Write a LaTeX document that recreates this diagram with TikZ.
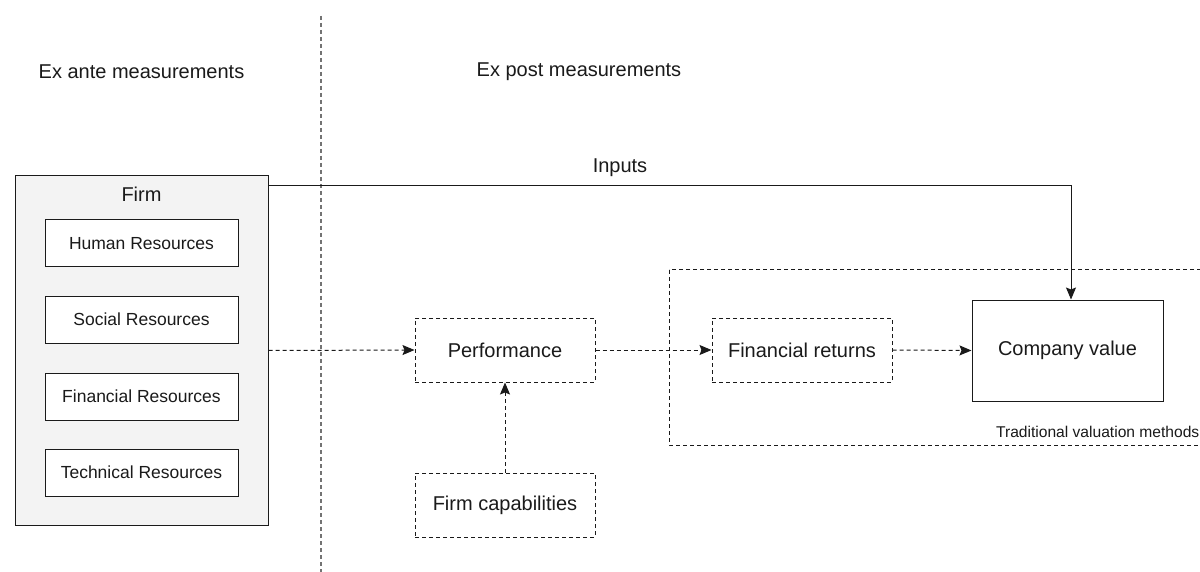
\documentclass[tikz,border=0pt]{standalone}
\usepackage{fontspec}
\setmainfont{Liberation Sans}
\usetikzlibrary{arrows.meta}
\definecolor{ink}{HTML}{1A1A1A}
\definecolor{firmfill}{HTML}{F3F3F3}
\tikzset{
  txt/.style={text=ink, inner sep=0pt},
  box/.style={draw=ink, line width=1pt, inner sep=0pt, text=ink, font=\fontsize{20}{24}\selectfont},
  dbox/.style={box, dash pattern=on 4pt off 3pt},
  resbox/.style={draw=ink, line width=1pt, fill=white, inner sep=0pt, minimum width=193pt, minimum height=47pt, text=ink, font=\fontsize{17.5}{21}\selectfont},
  tip/.style={-{Stealth[length=12pt,width=10pt,inset=2pt]}},
  dashlink/.style={draw=ink, line width=1pt, dash pattern=on 4pt off 3pt, tip},
  solidlink/.style={draw=ink, line width=1pt, tip},
}
\begin{document}
\begin{tikzpicture}[x=1pt,y=-1pt]
\clip (0,0) rectangle (1200,572);
\fill[white] (0,0) rectangle (1200,572);

% separator between the two measurement phases
\draw[draw=black!55, line width=1.2pt, dash pattern=on 4pt off 3pt] (321,16) -- (321,572);

\node[txt, font=\fontsize{20}{24}\selectfont] (exante) at (141.5,72) {Ex ante measurements};
\node[txt, font=\fontsize{20}{24}\selectfont] (expost) at (579,72) {Ex post measurements};

% the firm and its resources
\node[draw=ink, line width=1pt, fill=firmfill, minimum width=253pt, minimum height=349pt, inner sep=0pt] (firm) at (141.5,350.5) {};
\node[txt, font=\fontsize{20}{24}\selectfont] (firmlabel) at (141.5,194) {Firm};
\node[resbox] (human) at (141.5,243.5) {Human Resources};
\node[resbox] (social) at (141.5,319.5) {Social Resources};
\node[resbox] (financial) at (141.5,396.5) {Financial Resources};
\node[resbox] (technical) at (141.5,472.5) {Technical Resources};

% traditional valuation frame
\draw[draw=ink, line width=1pt, dash pattern=on 4pt off 3pt] (669,270) rectangle (1215,445);
\node[txt, font=\fontsize{15.6}{19}\selectfont, anchor=base east] (tvm) at (1199.5,437.5) {Traditional valuation methods};

% outcome boxes
\node[dbox, minimum width=180pt, minimum height=64pt] (perf) at (505,350) {Performance};
\node[dbox, minimum width=180pt, minimum height=64pt] (caps) at (505,505) {Firm capabilities};
\node[dbox, minimum width=180pt, minimum height=64pt] (fret) at (802,350) {Financial returns};
\node[box, fill=white, minimum width=191pt, minimum height=101pt] (cv) at (1067.5,350.5) {Company value};

% connectors
\draw[solidlink] ([yshift=-10pt]firm.north east) -| ([xshift=3.5pt]cv.north);
\node[txt, font=\fontsize{20}{24}\selectfont] (inputs) at (620,168) {Inputs};
\draw[dashlink] (firm.east) -- (perf.west);
\draw[dashlink] (caps.north) -- (perf.south);
\draw[dashlink] (perf.east) -- (fret.west);
\draw[dashlink] (fret.east) -- (cv.west);
\end{tikzpicture}
\end{document}
